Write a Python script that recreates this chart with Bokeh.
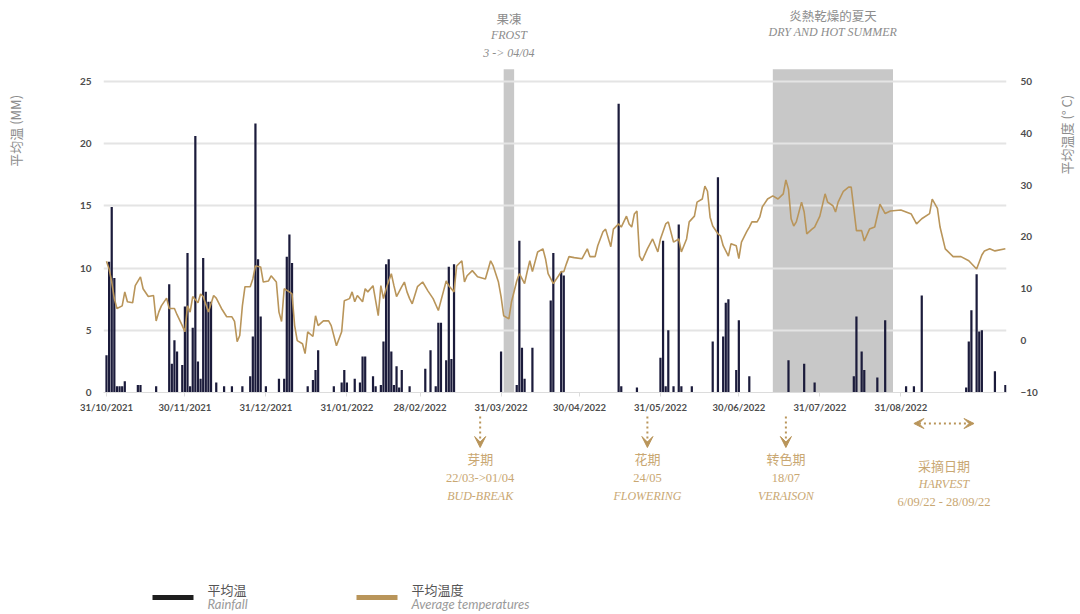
import numpy as np
import pandas as pd
from bokeh.plotting import figure
from bokeh.layouts import row, column
from bokeh.models import (Range1d, LinearAxis, FixedTicker, DatetimeTickFormatter,
                          ColumnDataSource, Label, Arrow, VeeHead)
from bokeh.embed import file_html
from bokeh.resources import INLINE

# ---------------- data ----------------
START = "2021-10-31"  # day 0

rain_day = [0, 1, 2, 3, 4, 5, 6, 7, 12, 13, 19, 24, 25, 26, 27, 29, 30, 31, 32, 33, 34, 35, 36, 37,
            38, 39, 40, 42, 45, 48, 52, 55, 56, 57, 58, 59, 61, 66, 68, 69, 70, 71, 77, 79, 80, 81,
            87, 90, 91, 92, 95, 97, 98, 99, 102, 103, 105, 106, 107, 108, 109, 110, 111, 112, 113,
            116, 122, 124, 126, 127, 128, 130, 131, 132, 133, 151, 157, 158, 159, 160, 163, 170,
            171, 174, 175, 196, 197, 203, 212, 213, 214, 215, 217, 219, 220, 224, 232, 234, 236,
            237, 238, 241, 242, 246, 261, 267, 271, 286, 287, 289, 290, 295, 298, 306, 309, 312,
            329, 330, 331, 333, 334, 335, 340, 344]
rain_mm = [3.0, 10.5, 14.9, 9.2, 0.5, 0.5, 0.5, 0.9, 0.6, 0.6, 0.5, 8.7, 2.3, 4.2, 3.3, 2.2, 6.9,
           11.2, 0.5, 5.2, 20.6, 2.5, 1.1, 10.8, 8.1, 7.3, 7.3, 0.8, 0.5, 0.5, 0.5, 1.3, 4.5, 21.6,
           10.7, 6.1, 0.5, 1.1, 1.1, 10.9, 12.7, 10.4, 0.5, 1.0, 1.8, 3.4, 0.5, 0.8, 1.8, 0.8, 1.1,
           0.8, 2.9, 2.9, 1.3, 0.5, 0.6, 4.1, 10.3, 10.7, 3.3, 0.6, 2.1, 0.4, 1.8, 0.5, 1.9, 3.4,
           0.5, 5.6, 5.6, 2.6, 10.1, 2.7, 10.3, 3.3, 0.6, 12.2, 3.6, 1.1, 3.6, 7.4, 11.2, 9.7, 9.4,
           23.2, 0.5, 0.4, 2.8, 12.2, 0.5, 5.0, 0.5, 13.5, 0.5, 0.5, 4.1, 17.3, 4.5, 7.2, 7.5, 1.8,
           5.8, 1.3, 2.6, 2.3, 0.8, 1.3, 6.1, 3.3, 1.8, 1.2, 5.8, 0.5, 0.5, 7.8, 0.4, 4.1, 6.6, 9.5,
           4.9, 5.0, 1.7, 0.6]

temp_day = [0, 1, 2, 3, 4, 6, 7, 8, 10, 11, 13, 14, 16, 18, 19, 20, 21, 23, 24, 26, 27, 29, 30, 31,
            32, 33, 35, 36, 37, 39, 41, 42, 44, 46, 48, 49, 50, 51, 52, 53, 55, 56, 57, 59, 60, 62,
            63, 65, 66, 67, 68, 70, 71, 72, 73, 75, 76, 77, 79, 80, 81, 83, 85, 86, 88, 90, 91, 93,
            94, 95, 96, 98, 99, 100, 102, 104, 105, 106, 107, 109, 110, 111, 113, 114, 115, 116,
            117, 119, 121, 123, 125, 127, 129, 130, 131, 133, 134, 136, 137, 138, 140, 142, 145,
            147, 148, 150, 151, 152, 154, 155, 157, 158, 160, 161, 162, 163, 165, 167, 168, 169,
            171, 173, 174, 175, 176, 177, 179, 182, 184, 185, 187, 188, 190, 191, 193, 194, 196,
            197, 199, 200, 201, 202, 203, 204, 205, 207, 209, 211, 212, 214, 215, 217, 219, 220,
            222, 223, 225, 226, 228, 229, 230, 231, 232, 234, 235, 236, 238, 239, 241, 242, 243,
            245, 246, 247, 249, 250, 251, 253, 255, 257, 259, 260, 261, 262, 263, 264, 266, 267,
            268, 270, 271, 273, 275, 276, 278, 279, 280, 282, 284, 285, 287, 289, 290, 292, 294,
            296, 298, 300, 304, 308, 310, 312, 315, 316, 318, 319, 321, 324, 327, 330, 333, 335,
            336, 338, 340, 344]
temp_c = [15.3, 13.8, 11.3, 8.1, 6.2, 6.7, 9.4, 7.5, 7.3, 10.6, 12.3, 10.0, 8.5, 8.7, 3.8, 5.5, 6.7,
          8.2, 6.2, 6.2, 5.0, 2.9, 1.7, 6.7, 5.5, 8.5, 7.3, 9.0, 8.5, 5.5, 8.7, 8.2, 6.2, 4.6, 4.6,
          3.7, -0.2, 1.0, 6.7, 10.4, 10.4, 11.9, 14.4, 14.2, 11.3, 11.5, 12.5, 11.3, 5.5, 3.7, 10.0,
          9.4, 9.0, 2.9, 0.0, -0.6, -2.5, 1.7, 0.8, 4.8, 2.9, 3.8, 3.8, 2.9, -1.0, 1.7, 7.7, 8.1,
          9.4, 7.5, 8.7, 7.5, 10.0, 9.4, 10.6, 4.8, 10.6, 8.1, 10.0, 12.9, 10.6, 8.5, 10.4, 11.3,
          9.4, 8.1, 7.1, 10.4, 11.3, 9.6, 8.1, 5.8, 9.6, 11.5, 10.6, 9.4, 14.4, 15.4, 11.3, 12.5,
          13.5, 12.3, 11.9, 15.4, 14.4, 11.3, 8.5, 4.8, 4.2, 7.5, 11.5, 12.9, 11.0, 13.3, 15.4,
          13.3, 17.1, 17.7, 15.8, 12.9, 11.0, 12.5, 13.3, 13.3, 14.8, 16.2, 16.0, 15.8, 17.7, 16.2,
          16.2, 18.3, 21.0, 21.5, 18.1, 21.5, 22.5, 21.9, 24.0, 22.5, 21.9, 24.4, 25.0, 16.3, 15.4,
          17.7, 19.6, 17.1, 19.6, 22.5, 22.9, 19.0, 19.6, 17.1, 19.6, 22.9, 24.0, 26.7, 27.3, 29.8,
          28.8, 23.8, 22.1, 20.6, 20.2, 18.3, 16.3, 18.7, 18.3, 15.8, 19.0, 21.0, 21.9, 22.9, 22.9,
          23.8, 25.8, 27.3, 27.9, 27.3, 28.3, 31.0, 29.2, 23.5, 22.1, 22.9, 26.7, 24.8, 20.6, 21.5,
          21.9, 24.0, 28.3, 26.7, 26.0, 24.8, 26.7, 28.8, 29.6, 29.6, 21.2, 21.2, 19.2, 21.5, 21.9,
          26.3, 24.5, 25.0, 25.2, 24.4, 22.5, 23.5, 24.5, 27.3, 25.5, 21.9, 17.7, 16.2, 16.2, 15.4,
          13.8, 16.5, 17.3, 17.7, 17.3, 17.7]

tick_dates = ["2021-10-31", "2021-11-30", "2021-12-31", "2022-01-31", "2022-02-28", "2022-03-31",
              "2022-04-30", "2022-05-31", "2022-06-30", "2022-07-31", "2022-08-31"]
rain_ticks = [0, 5, 10, 15, 20, 25]
temp_ticks = [-10, 0, 10, 20, 30, 40, 50]

frost_period = ["2022-04-01", "2022-04-05"]
summer_period = ["2022-07-13", "2022-08-28"]
stage_dates = ["2022-03-23", "2022-05-26", "2022-07-18"]
stage_cn = ["芽期", "花期", "转色期"]
stage_when = ["22/03->01/04", "24/05", "18/07"]
stage_en = ["BUD-BREAK", "FLOWERING", "VERAISON"]
harvest_period = ["2022-09-05", "2022-09-28"]

assert len(rain_day) == len(rain_mm)
assert len(temp_day) == len(temp_c)

# ---------------- layout helpers (page pixels -> data) ----------------
DAY_MS = 86400000.0
def ms(d):
    return pd.Timestamp(d).value / 1e6

PX_START, PX_PER_DAY = 106.0, 2.613
FRAME_L, FRAME_R, FRAME_B = 103, 1006, 393
RAIN_PX, TEMP_PX = 12.48, 5.2
PAGE_W, PAGE_H = 1076, 614
TOP_H = 415
LEFT_W = 40
MAIN_W = 1000

def px_x(px):
    return ms(START) + (px - PX_START) / PX_PER_DAY * DAY_MS

def px_y(py):
    return (FRAME_B - py) / RAIN_PX

GOLD = "#b9955a"
GOLD_TXT = "#c9a772"
NAVY = "#1b1b3b"
GREY_TXT = "#8c8c8c"
TICK_TXT = "#4d4d4d"
CJK = "Noto Sans CJK SC"
SERIF = "Liberation Serif"

start = pd.Timestamp(START)
rain_src = ColumnDataSource(dict(date=start + pd.to_timedelta(rain_day, unit="D"), mm=rain_mm))
temp_src = ColumnDataSource(dict(date=start + pd.to_timedelta(temp_day, unit="D"), t=temp_c))

x_range = Range1d(px_x(FRAME_L), px_x(FRAME_R))

def blank(fig):
    fig.axis.visible = False
    fig.grid.visible = False
    fig.outline_line_color = None
    return fig

def make_label(fig, x, y, text, color, size, font=CJK, style="normal", align="center",
               angle=0.0, x_range_name="default"):
    fig.add_layout(Label(x=x, y=y, text=text, text_color=color, text_font_size=size,
                         text_font=font, text_font_style=style, text_align=align,
                         text_baseline="middle", angle=angle, x_range_name=x_range_name))

# ---------------- left title strip ----------------
left = blank(figure(width=LEFT_W, height=TOP_H, x_range=Range1d(0, LEFT_W),
                    y_range=Range1d(TOP_H, 0), output_backend="svg", toolbar_location=None,
                    min_border=0))
make_label(left, 15, 138, "平均温 (MM)", GREY_TXT, "13px", angle=np.pi / 2)

# ---------------- main chart ----------------
p = figure(width=MAIN_W, height=TOP_H, x_axis_type="datetime",
           x_range=x_range, y_range=Range1d(0, px_y(0)),
           output_backend="svg", toolbar_location=None,
           min_border_left=FRAME_L - LEFT_W, min_border_right=LEFT_W + MAIN_W - FRAME_R,
           min_border_top=0, min_border_bottom=TOP_H - FRAME_B,
           outline_line_color=None, background_fill_color="white", border_fill_color="white")
p.extra_y_ranges = {"temp": Range1d(-10, -10 + FRAME_B / TEMP_PX)}

p.xgrid.visible = False
p.ygrid.ticker = FixedTicker(ticks=rain_ticks)
p.ygrid.grid_line_color = "#e4e4e4"
p.ygrid.grid_line_width = 2

bands = p.quad(left=[ms(frost_period[0]), ms(summer_period[0])],
               right=[ms(frost_period[1]), ms(summer_period[1])],
               bottom=0, top=px_y(69), fill_color="#c8c8c8", line_color=None)
bands.level = "image"

p.vbar(x="date", top="mm", width=0.85 * DAY_MS, source=rain_src,
       fill_color=NAVY, line_color=None)

p.line(x="date", y="t", source=temp_src, y_range_name="temp",
       line_color=GOLD, line_width=1.6)

def style_axis(ax, size="10px"):
    ax.major_label_text_font = "Lato"
    ax.major_label_text_font_style = "bold"
    ax.major_label_text_font_size = size
    ax.major_label_text_color = TICK_TXT
    ax.minor_tick_line_color = None

yl = p.yaxis[0]
yl.ticker = FixedTicker(ticks=rain_ticks)
style_axis(yl)
yl.axis_line_color = None
yl.major_tick_line_color = None
yl.major_label_standoff = 6

yr = LinearAxis(y_range_name="temp", ticker=FixedTicker(ticks=temp_ticks))
style_axis(yr)
yr.axis_line_color = None
yr.major_tick_line_color = None
yr.major_label_standoff = 8
p.add_layout(yr, "right")

xa = p.xaxis[0]
xa.ticker = FixedTicker(ticks=[ms(d) for d in tick_dates])
fmt = "%d/%m/%Y"
xa.formatter = DatetimeTickFormatter(microseconds=fmt, milliseconds=fmt, seconds=fmt, minsec=fmt,
                                     minutes=fmt, hourmin=fmt, hours=fmt, days=fmt, months=fmt,
                                     years=fmt)
style_axis(xa, "9.5px")
xa.axis_line_color = "#dcdcdc"
xa.major_tick_line_color = "#dcdcdc"
xa.major_tick_in = 0
xa.major_tick_out = 4
xa.major_label_standoff = 5

fx = (ms(frost_period[0]) + ms(frost_period[1])) / 2
make_label(p, fx, px_y(18), "果凍", GREY_TXT, "12.5px")
make_label(p, fx, px_y(35), "FROST", GREY_TXT, "12px", SERIF, "italic")
make_label(p, fx, px_y(53), "3 -> 04/04", GREY_TXT, "12px", SERIF, "italic")
sx = (ms(summer_period[0]) + ms(summer_period[1])) / 2
make_label(p, sx, px_y(15), "炎熱乾燥的夏天", GREY_TXT, "12.5px")
make_label(p, sx, px_y(32), "DRY AND HOT SUMMER", GREY_TXT, "12px", SERIF, "italic")

# ---------------- right title strip ----------------
RIGHT_X0 = LEFT_W + MAIN_W
right = blank(figure(width=PAGE_W - RIGHT_X0, height=TOP_H, x_range=Range1d(RIGHT_X0, PAGE_W),
                     y_range=Range1d(TOP_H, 0), output_backend="svg", toolbar_location=None,
                     min_border=0))
make_label(right, 1066, 142, "平均温度 (° C)", GREY_TXT, "13px", angle=np.pi / 2)

# ---------------- bottom strip: phenology + legend ----------------
b = blank(figure(width=PAGE_W, height=PAGE_H - TOP_H, x_range=x_range,
                 y_range=Range1d(PAGE_H, TOP_H), output_backend="svg", toolbar_location=None,
                 min_border_left=FRAME_L, min_border_right=PAGE_W - FRAME_R,
                 min_border_top=0, min_border_bottom=0))
b.extra_x_ranges = {"px": Range1d(FRAME_L, FRAME_R)}

for d, cn, when, en in zip(stage_dates, stage_cn, stage_when, stage_en):
    x = ms(d)
    b.add_layout(Arrow(x_start=x, y_start=TOP_H + 1, x_end=x, y_end=447, start=None,
                       end=VeeHead(size=11, fill_color=GOLD, line_color=GOLD),
                       line_color=GOLD, line_width=2, line_dash="2 3"))
    make_label(b, x, 458, cn, GOLD_TXT, "13px")
    make_label(b, x, 477, when, GOLD_TXT, "12.5px", SERIF)
    make_label(b, x, 495, en, GOLD_TXT, "12px", SERIF, "italic")

h0, h1 = ms(harvest_period[0]), ms(harvest_period[1])
b.add_layout(Arrow(x_start=h0, y_start=423, x_end=h1, y_end=423,
                   start=VeeHead(size=10, fill_color=GOLD, line_color=GOLD),
                   end=VeeHead(size=10, fill_color=GOLD, line_color=GOLD),
                   line_color=GOLD, line_width=2, line_dash="2 3"))
hx = (h0 + h1) / 2
make_label(b, hx, 465, "采摘日期", GOLD_TXT, "13px")
make_label(b, hx, 483, "HARVEST", GOLD_TXT, "12px", SERIF, "italic")
make_label(b, hx, 501, "6/09/22 - 28/09/22", GOLD_TXT, "12.5px", SERIF)

legend_items = [("平均温", "Rainfall", "#1e1e1e", 152),
                ("平均温度", "Average temperatures", GOLD, 356)]
for cn, en, col, x0 in legend_items:
    b.segment(x0=[x0], y0=[597], x1=[x0 + 41], y1=[597], x_range_name="px",
              line_color=col, line_width=5)
    make_label(b, x0 + 55, 589, cn, "#555555", "13px", align="left", x_range_name="px")
    make_label(b, x0 + 55, 603, en, "#9a9a9a", "13px", "Lato", "italic", align="left",
               x_range_name="px")

layout = column(row(left, p, right), b)
open("out.html", "w").write(file_html(layout, INLINE))
